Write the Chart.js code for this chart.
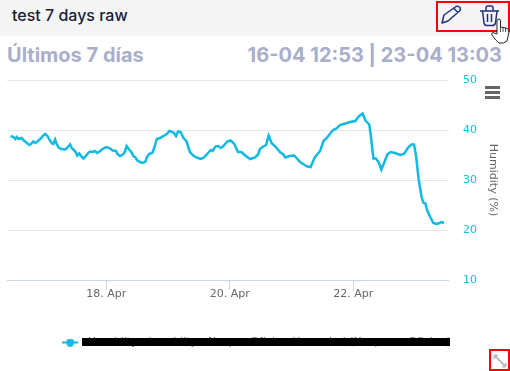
<!DOCTYPE html>
<html>
<head>
<meta charset="utf-8">
<script src="https://cdn.jsdelivr.net/npm/chart.js@4"></script>
<style>
  html, body { margin: 0; padding: 0; background: #fff; }
  body { width: 510px; height: 371px; position: relative; overflow: hidden; font-family: Inter, sans-serif; }
  .card-head { position: absolute; left: 0; top: 0; width: 510px; height: 36px; background: #f5f5f5; }
  .card-title { position: absolute; left: 12px; top: 5px; font-size: 16px; font-weight: 500; line-height: 20px; color: #1c2033; }
  .range-name, .range-dates { position: absolute; top: 43px; font-size: 20px; font-weight: 700; line-height: 24px; color: #a9aecb; white-space: nowrap; }
  .range-name { left: 7px; }
  .range-dates { right: 8px; }
  #wrap { position: absolute; left: 0; top: 36px; width: 510px; height: 335px; }
  .red-box { position: absolute; border: 2px solid #f00; box-sizing: border-box; }
  .menu { position: absolute; left: 485px; top: 86px; width: 15px; }
  .menu div { height: 3px; background: #666; margin-bottom: 2px; }
  .redact { position: absolute; left: 82px; top: 338px; width: 368px; height: 8px; background: #000; }
  svg { position: absolute; overflow: visible; }
</style>
</head>
<body>
<div class="card-head"><div class="card-title">test 7 days raw</div></div>
<div class="range-name">Últimos 7 días</div>
<div class="range-dates">16-04 12:53 | 23-04 13:03</div>
<div id="wrap"><canvas id="chart"></canvas></div>
<div class="menu"><div></div><div></div><div></div></div>
<div class="redact"></div>

<div class="red-box" style="left:436px;top:1px;width:74px;height:31px"></div>
<svg style="left:0;top:0" width="510" height="371" fill="none">
  <path d="M442 23 L444 15 L456 6.5 Q458 5.5 460 7.5 Q461 9.5 459.500 11 L448 21 Z M454 8.500 L458 12.500" stroke="#1f2f7a" stroke-width="1.5" stroke-linejoin="round"/>
  <path d="M480 11 H499 M486 11 V8 Q486 6 488 6 H491 Q493 6 493 8 V11 M482.500 11 L484 23 Q484.500 25.500 487 25.500 H492 Q495 25.500 495.500 23 L497 11 M487.500 14 V22 M491.500 14 V22" stroke="#1f2f7a" stroke-width="1.5" stroke-linejoin="round"/>
  <path d="M497 21 Q497 19 499 19 Q500.500 19 500.500 21 V27 L506 28 Q509 29 509 32 L507 41 Q504 44 499 43 Q496 41 492 35 Q491 33 493 32.500 L497 34 Z" fill="#fff" stroke="#222" stroke-width="1"/>
  <path d="M500.500 27 V32 M503 28 V32 M505.500 28 V32" stroke="#222" stroke-width="0.8"/>
</svg>
<div class="red-box" style="left:489px;top:349px;width:21px;height:22px"></div>
<svg style="left:0;top:0" width="510" height="371" fill="none">
  <path d="M495 356 L505 366" stroke="#bdbdbd" stroke-width="2"/>
  <path d="M494 359 V355 H498 Z M506 363 V367 H502 Z" fill="#bdbdbd" stroke="#bdbdbd"/>
</svg>

<script>
// hours since 16 Apr 00:00
const hours = [
  10.8, 11.9, 12.6, 13.2, 13.9, 15.0, 16.0, 17.1, 18.1, 18.9, 19.6, 20.4, 21.2, 22.5, 23.5, 24.3, 25.1, 26.1, 26.9, 27.4,
  28.1, 28.7, 29.5, 30.5, 32.1, 32.9, 33.9, 34.7, 35.4, 36.2, 36.7, 37.5, 38.3, 39.1, 40.1, 41.1, 41.9, 42.7, 43.6, 44.5,
  45.6, 46.8, 48.1, 49.2, 50.5, 51.8, 52.3, 53.3, 54.4, 55.1, 55.9, 56.7, 57.7, 58.5, 59.3, 60.1, 61.1, 62.1, 63.2, 63.9,
  64.7, 66.0, 66.8, 67.6, 68.9, 70.2, 71.5, 72.5, 74.1, 75.1, 75.9, 76.9, 78.0, 79.2, 80.5, 81.8, 83.1, 84.7, 85.7, 87.0,
  88.6, 89.3, 90.4, 91.4, 92.5, 93.5, 95.0, 96.3, 97.6, 99.2, 100.5, 102.0, 103.9, 105.8, 107.0, 107.7, 109.0, 110.1, 111.1, 112.2,
  113.7, 115.5, 116.8, 117.6, 119.1, 121.0, 122.3, 123.3, 125.1, 126.1, 127.4, 129.0, 131.1, 132.4, 133.7, 135.0, 136.2, 137.5, 138.8, 140.9,
  142.7, 144.8, 146.1, 147.6, 148.7, 150.2, 150.8, 151.8, 152.8, 153.9, 154.9, 156.2, 157.2, 158.5, 160.2, 162.2, 163.7, 165.3, 166.6, 167.6,
  168.4, 169.4, 170.5, 171.2, 172.0, 172.8, 173.8, 175.1, 176.4, 177.5, 178.2, 179.3
];
const humidity = [
  38.8, 38.6, 38.2, 38.6, 38.2, 38.4, 37.9, 37.4, 37.0, 37.3, 37.7, 37.4, 37.7, 38.3, 38.9, 39.2, 38.8, 37.9, 37.3, 37.2,
  38.1, 37.2, 36.5, 36.2, 36.1, 36.5, 37.1, 36.3, 36.0, 35.5, 34.9, 35.3, 34.7, 34.3, 34.8, 35.5, 35.7, 35.6, 35.8, 35.4,
  35.8, 36.3, 36.6, 36.4, 35.9, 35.8, 35.2, 34.8, 35.1, 35.5, 36.8, 36.2, 35.6, 34.8, 34.5, 33.9, 33.6, 33.4, 33.7, 34.7,
  35.2, 35.5, 36.7, 38.2, 38.4, 38.8, 39.2, 39.8, 39.5, 38.8, 39.7, 39.6, 38.4, 37.7, 35.6, 34.9, 34.5, 34.2, 34.4, 35.1,
  36.0, 35.8, 36.7, 36.8, 36.4, 36.8, 37.7, 37.9, 37.3, 35.6, 35.6, 34.9, 34.2, 34.5, 35.1, 36.2, 36.7, 37.0, 38.9, 37.4,
  36.7, 35.6, 35.1, 34.5, 34.8, 34.9, 34.2, 33.6, 33.0, 32.7, 32.6, 34.5, 35.8, 37.8, 38.4, 39.3, 40.0, 40.3, 41.0, 41.3,
  41.6, 41.8, 42.7, 43.3, 41.9, 41.1, 38.9, 34.3, 34.3, 33.5, 32.1, 33.7, 35.1, 35.6, 35.4, 35.0, 35.2, 36.5, 37.1, 37.1,
  34.8, 30.1, 26.7, 25.5, 25.3, 23.8, 22.7, 21.4, 21.2, 21.4, 21.6, 21.4
];
const xTicks = [48, 96, 144];
const xTickLabels = ['18. Apr', '20. Apr', '22. Apr'];
const yTicks = [10, 20, 30, 40, 50];

const lineColor = '#12b9e4';
const tickColor = '#12bde8';

// legend marker: line with a dot on it, drawn left of the canvas middle so it sits further from the text
const marker = document.createElement('canvas');
marker.width = 24;
marker.height = 8;
const mctx = marker.getContext('2d');
mctx.strokeStyle = lineColor;
mctx.fillStyle = lineColor;
mctx.lineWidth = 2;
mctx.beginPath();
mctx.moveTo(0, 4);
mctx.lineTo(16, 4);
mctx.stroke();
mctx.beginPath();
mctx.arc(8, 4, 4, 0, Math.PI * 2);
mctx.fill();

new Chart(document.getElementById('chart'), {
  type: 'line',
  data: {
    datasets: [{
      label: 'Humidity - humidity - Nespre Oficina Humedad (Nespreso Oficina)',
      data: hours.map((h, i) => ({ x: h, y: humidity[i] })),
      borderColor: lineColor,
      backgroundColor: lineColor,
      borderWidth: 2.5,
      pointRadius: 0,
      tension: 0,
    }],
  },
  options: {
    responsive: true,
    maintainAspectRatio: false,
    animation: false,
    layout: { padding: { left: 7, top: 44, right: 0, bottom: 13 } },
    plugins: {
      title: { display: false },
      tooltip: { enabled: false },
      legend: {
        position: 'bottom',
        labels: {
          usePointStyle: true,
          pointStyle: marker,
          pointStyleWidth: 16,
          color: '#666',
          font: { family: 'DejaVu Sans', size: 11 },
          padding: 10,
        },
      },
    },
    scales: {
      x: {
        type: 'linear',
        min: 9.4,
        max: 180.8,
        afterBuildTicks: (scale) => { scale.ticks = xTicks.map((v) => ({ value: v })); },
        afterFit: (scale) => { scale.height = 47; },
        ticks: {
          autoSkip: false,
          maxRotation: 0,
          padding: -2,
          color: '#666',
          font: { family: 'DejaVu Sans', size: 11 },
          callback: (v) => xTickLabels[xTicks.indexOf(v)],
        },
        grid: { drawOnChartArea: false, tickLength: 10, color: '#ccd6eb' },
        border: { color: '#ccd6eb' },
      },
      y: {
        position: 'right',
        min: 10,
        max: 50,
        afterBuildTicks: (scale) => { scale.ticks = yTicks.map((v) => ({ value: v })); },
        afterFit: (scale) => { scale.width = 62; },
        ticks: {
          padding: 15,
          color: tickColor,
          font: { family: 'DejaVu Sans', size: 11 },
        },
        grid: { drawTicks: false, color: '#e6e6e6' },
        border: { display: false },
        title: {
          display: true,
          text: 'Humidity (%)',
          color: '#666',
          font: { family: 'DejaVu Sans', size: 11 },
          padding: { top: 11, bottom: 0 },
        },
      },
    },
  },
});
</script>
</body>
</html>
